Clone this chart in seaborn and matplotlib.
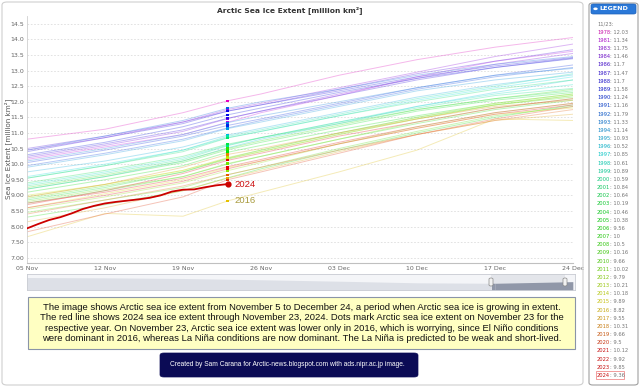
import colorsys
import numpy as np
import pandas as pd
import seaborn as sns
import matplotlib.pyplot as plt
from matplotlib.patches import FancyBboxPatch, Rectangle

# --- data (million km2) ---
years = [1978, 1981, 1983, 1984, 1986, 1987, 1988, 1989, 1990, 1991, 1992, 1993, 1994,
         1995, 1996, 1997, 1998, 1999, 2000, 2001, 2002, 2003, 2004, 2005, 2006, 2007,
         2008, 2009, 2010, 2011, 2012, 2013, 2014, 2015, 2016, 2017, 2018, 2019, 2020,
         2021, 2022, 2023]
days = [0, 7, 14, 18, 21, 28, 35, 42, 49]   # days after 05 Nov

ext_nov05 = [10.80, 10.15, 10.45, 10.20, 10.50, 10.25, 10.40, 10.30, 10.05, 9.95, 10.45, 10.10, 9.90,
             9.75, 9.20, 9.60, 9.35, 9.55, 9.30, 9.55, 9.40, 8.85, 9.20, 9.10, 8.30, 8.75,
             9.25, 8.90, 8.45, 8.80, 8.55, 8.95, 9.00, 8.60, 7.67, 8.15, 8.95, 8.40, 7.83,
             8.70, 8.75, 8.60]
ext_nov12 = [11.12, 10.55, 10.85, 10.60, 10.90, 10.65, 10.85, 10.70, 10.45, 10.35, 10.90, 10.50, 10.30,
             10.10, 9.60, 10.00, 9.75, 9.95, 9.70, 9.95, 9.80, 9.25, 9.60, 9.50, 8.70, 9.15,
             9.65, 9.30, 8.85, 9.20, 8.95, 9.35, 9.35, 9.05, 8.42, 8.60, 9.35, 8.85, 8.40,
             9.15, 9.10, 9.00]
ext_nov19 = [11.65, 10.95, 11.35, 11.05, 11.35, 11.10, 11.30, 11.20, 10.90, 10.80, 11.40, 10.95, 10.75,
             10.55, 10.10, 10.45, 10.20, 10.45, 10.15, 10.40, 10.25, 9.75, 10.05, 9.95, 9.15, 9.60,
             10.10, 9.75, 9.25, 9.60, 9.40, 9.80, 9.80, 9.50, 8.33, 9.15, 9.90, 9.30, 8.95,
             9.70, 9.55, 9.45]
ext_nov23 = [12.03, 11.34, 11.75, 11.46, 11.7, 11.47, 11.7, 11.58, 11.24, 11.16, 11.79, 11.33, 11.14,
             10.93, 10.52, 10.85, 10.61, 10.89, 10.59, 10.84, 10.64, 10.19, 10.46, 10.38, 9.56, 10.0,
             10.5, 10.16, 9.66, 10.02, 9.79, 10.21, 10.18, 9.89, 8.82, 9.55, 10.31, 9.66, 9.5,
             10.12, 9.92, 9.85]
ext_nov26 = [12.25, 11.65, 11.95, 11.70, 11.90, 11.70, 11.90, 11.80, 11.45, 11.40, 12.00, 11.55, 11.35,
             11.15, 10.80, 11.05, 10.85, 11.10, 10.85, 11.05, 10.85, 10.45, 10.70, 10.60, 9.85, 10.25,
             10.75, 10.40, 9.90, 10.25, 10.05, 10.45, 10.40, 10.10, 9.10, 9.80, 10.50, 9.90, 9.75,
             10.35, 10.15, 10.10]
ext_dec03 = [12.85, 12.20, 12.45, 12.25, 12.40, 12.20, 12.35, 12.30, 11.95, 11.90, 12.40, 12.00, 11.85,
             11.65, 11.30, 11.55, 11.35, 11.60, 11.35, 11.55, 11.30, 11.00, 11.20, 11.10, 10.45, 10.80,
             11.25, 10.95, 10.50, 10.80, 10.65, 11.00, 10.95, 10.65, 9.75, 10.40, 11.00, 10.45, 10.35,
             10.90, 10.70, 10.65]
ext_dec10 = [13.35, 12.80, 12.95, 12.75, 12.90, 12.70, 12.80, 12.75, 12.45, 12.40, 12.85, 12.45, 12.35,
             12.15, 11.85, 12.05, 11.85, 12.10, 11.80, 12.00, 11.75, 11.50, 11.70, 11.55, 11.00, 11.30,
             11.75, 11.45, 11.05, 11.35, 11.20, 11.50, 11.45, 11.15, 10.45, 10.95, 11.45, 10.95, 10.95,
             11.35, 11.20, 11.15]
ext_dec17 = [13.75, 13.30, 13.45, 13.20, 13.30, 13.10, 13.15, 13.10, 12.85, 12.80, 13.20, 12.85, 12.70,
             12.55, 12.30, 12.45, 12.25, 12.50, 12.20, 12.40, 12.10, 11.90, 12.05, 11.95, 11.50, 11.75,
             12.10, 11.90, 11.55, 11.80, 11.65, 11.95, 11.90, 11.60, 11.45, 11.40, 11.85, 11.40, 11.45,
             11.80, 11.65, 11.60]
ext_dec24 = [14.06, 13.62, 13.85, 13.55, 13.67, 13.40, 13.42, 13.38, 13.18, 13.10, 13.45, 13.07, 12.95,
             12.86, 12.70, 12.80, 12.55, 12.90, 12.43, 12.70, 12.35, 12.20, 12.30, 12.25, 11.90, 12.05,
             12.40, 12.15, 11.85, 12.10, 11.95, 12.25, 12.20, 11.80, 11.40, 11.60, 12.05, 11.75, 11.85,
             12.10, 11.95, 11.90]

days_2024 = list(range(19))
ext_2024 = [7.94, 8.08, 8.21, 8.30, 8.42, 8.56, 8.66, 8.74, 8.79, 8.83, 8.87, 8.92, 9.00,
            9.12, 9.18, 9.19, 9.26, 9.32, 9.36]

legend_years = years + [2024]
legend_vals = ['12.03', '11.34', '11.75', '11.46', '11.7', '11.47', '11.7', '11.58', '11.24', '11.16',
               '11.79', '11.33', '11.14', '10.93', '10.52', '10.85', '10.61', '10.89', '10.59', '10.84',
               '10.64', '10.19', '10.46', '10.38', '9.56', '10', '10.5', '10.16', '9.66', '10.02',
               '9.79', '10.21', '10.18', '9.89', '8.82', '9.55', '10.31', '9.66', '9.5', '10.12',
               '9.92', '9.85', '9.36']

xtick_days = [0, 7, 14, 21, 28, 35, 42, 49]
xtick_labels = ['05 Nov', '12 Nov', '19 Nov', '26 Nov', '03 Dec', '10 Dec', '17 Dec', '24 Dec']
ytick_vals = [7.0, 7.5, 8.0, 8.5, 9.0, 9.5, 10.0, 10.5, 11.0, 11.5, 12.0, 12.5, 13.0, 13.5, 14.0, 14.5]
ytick_labels = ['7.00', '7.50', '8.00', '8.50', '9.00', '9.50', '10.0', '10.5', '11.0', '11.5',
                '12.0', '12.5', '13.0', '13.5', '14.0', '14.5']

# navigator outline (relative height)
nav_days = [0, 7, 14, 21, 28, 35, 42, 49]
nav_level = [0.78, 0.76, 0.72, 0.64, 0.55, 0.45, 0.42, 0.52]

caption = ("The image shows Arctic sea ice extent from November 5 to December 24, a period when Arctic sea ice is growing in extent.\n"
           "The red line shows 2024 sea ice extent through November 23, 2024. Dots mark Arctic sea ice extent on November 23 for the\n"
           "respective year. On November 23, Arctic sea ice extent was lower only in 2016, which is worrying, since El Niño conditions\n"
           "were dominant in 2016, whereas La Niña conditions are now dominant. The La Niña is predicted to be weak and short-lived.")
credit = "Created by Sam Carana for Arctic-news.blogspot.com with ads.nipr.ac.jp image."

# colours: magenta for the oldest years through to red for the newest
hue_years = [1978, 1990, 1997, 2003, 2010, 2015, 2018, 2021]
hue_deg = [310, 230, 180, 130, 100, 58, 35, 0]


def year_color(y, light, sat=0.85):
    h = np.interp(y, hue_years, hue_deg) / 360.0
    return colorsys.hls_to_rgb(h, light, sat)


sns.set_theme(style='white')
plt.rcParams['font.family'] = ['DejaVu Sans']

W, H = 640, 387
fig = plt.figure(figsize=(6.4, 3.87), dpi=100)


def fx(px):
    return px / W


def fy(py):
    return 1 - py / H


# outer border of chart
fig.patches.append(FancyBboxPatch((fx(2), fy(385)), fx(581), (383) / H,
                                  boxstyle='round,pad=0,rounding_size=0.008',
                                  transform=fig.transFigure, fc='none', ec='#cfcfcf', lw=0.8))

ax = fig.add_axes([fx(27), fy(263), fx(573 - 27), (263 - 16) / H])

rows = []
cols = [ext_nov05, ext_nov12, ext_nov19, ext_nov23, ext_nov26, ext_dec03, ext_dec10, ext_dec17, ext_dec24]
for i, yr in enumerate(years):
    for d, col in zip(days, cols):
        rows.append((yr, d, col[i]))
df = pd.DataFrame(rows, columns=['year', 'day', 'extent'])

line_pal = {y: year_color(y, 0.6, 0.75) for y in years}
sns.lineplot(data=df, x='day', y='extent', hue='year', palette=line_pal, legend=False,
             lw=0.7, alpha=0.4, ax=ax, estimator=None, sort=True)

# dots on Nov 23
dot_pal = {y: year_color(y, 0.45, 1.0) for y in years}
sns.scatterplot(x=[18] * len(years), y=ext_nov23, hue=years, palette=dot_pal, marker='s',
                s=2.5, linewidth=0, legend=False, ax=ax, zorder=4)

# 2024
sns.lineplot(x=days_2024, y=ext_2024, color='#cc0000', lw=1.3, ax=ax, zorder=5)
ax.scatter([days_2024[-1]], [ext_2024[-1]], s=12, color='#cc0000', zorder=6)
ax.text(days_2024[-1] + 0.6, ext_2024[-1], '2024', color='#cc1111', fontsize=6.8,
        va='center', ha='left', family=['Liberation Sans'])
i16 = years.index(2016)
ax.text(18.6, ext_nov23[i16], '2016', color='#a89a3c', fontsize=6.8,
        va='center', ha='left', family=['Liberation Sans'])

ax.set_xlim(0, 49)
ax.set_ylim(6.83, 14.75)
ax.set_xticks(xtick_days)
ax.set_xticklabels(xtick_labels)
ax.set_yticks(ytick_vals)
ax.set_yticklabels(ytick_labels)
ax.tick_params(axis='both', labelsize=4.5, labelcolor='#666666', length=0, pad=2)
ax.set_xlabel('')
ax.set_ylabel('')
ax.grid(axis='y', color='#dddddd', lw=0.6, ls=(0, (2, 2)))
ax.grid(axis='x', visible=False)
for s in ['top', 'right']:
    ax.spines[s].set_visible(False)
ax.spines['left'].set_color('#d0d0d0')
ax.spines['left'].set_linewidth(0.6)
ax.spines['bottom'].set_color('#c0c0c0')
ax.spines['bottom'].set_linewidth(0.8)

fig.text(fx(290), fy(10), 'Arctic Sea Ice Extent [million km²]', ha='center', va='center',
         fontsize=5.4, weight='bold', color='#333333')
fig.text(fx(8), fy(149), 'Sea Ice Extent [million km²]', ha='center', va='center',
         rotation=90, fontsize=5.2, color='#555555')

# navigator
nav = fig.add_axes([fx(27), fy(290), fx(575 - 27), 16 / H])
nav.set_facecolor('#f4f5f8')
nav.fill_between(nav_days, nav_level, 0, color='#dde0e7', lw=0)
nav.axvspan(41.7, 48.3, color='#e3e5ea', lw=0)
nav.fill_between(nav_days, nav_level, 0, where=[d >= 42 for d in nav_days],
                 color='#9097a8', lw=0)
nav.fill_between([41.7, 42], [0.43, 0.42], 0, color='#9097a8', lw=0)
nav.set_xlim(0, 49.2)
nav.set_ylim(0, 1)
nav.set_xticks([])
nav.set_yticks([])
for s in nav.spines.values():
    s.set_color('#c8cbd2')
    s.set_linewidth(0.6)
for hx in [491, 565]:
    fig.patches.append(FancyBboxPatch((fx(hx - 2), fy(286)), fx(4), 8 / H,
                                      boxstyle='round,pad=0,rounding_size=0.003',
                                      transform=fig.transFigure, fc='#f2f2f2', ec='#888888', lw=0.5,
                                      zorder=5))

# caption box
fig.patches.append(FancyBboxPatch((fx(28), fy(349)), fx(547), 52 / H,
                                  boxstyle='square,pad=0', transform=fig.transFigure,
                                  fc='#ffffc2', ec='#8a94a8', lw=0.8))
fig.text(fx(301.5), fy(323), caption, ha='center', va='center', fontsize=6.8,
         linespacing=1.2, color='#111111', family=['Liberation Sans', 'DejaVu Sans'])

# credit box
fig.patches.append(FancyBboxPatch((fx(160), fy(377)), fx(258), 24 / H,
                                  boxstyle='round,pad=0,rounding_size=0.006',
                                  transform=fig.transFigure, fc='#0b0b55', ec='#0b0b55', lw=0.5))
fig.text(fx(287), fy(365), credit, ha='center', va='center', fontsize=4.8, color='white',
         family=['Liberation Sans Narrow', 'Liberation Sans'])

# legend panel
fig.patches.append(FancyBboxPatch((fx(589), fy(385)), fx(49), 382 / H,
                                  boxstyle='round,pad=0,rounding_size=0.006',
                                  transform=fig.transFigure, fc='white', ec='#a0a0a0', lw=0.8))
fig.patches.append(FancyBboxPatch((fx(591), fy(14)), fx(45), 10 / H,
                                  boxstyle='round,pad=0,rounding_size=0.004',
                                  transform=fig.transFigure, fc='#2a78d8', ec='#1c5fb8', lw=0.5))
fig.patches.append(plt.Circle((fx(595.5), fy(8.8)), 2.2 / W, transform=fig.transFigure,
                              fc='white', ec='none'))
fig.text(fx(599), fy(9), 'LEGEND', color='white', fontsize=4.6, weight='bold',
         ha='left', va='center')
fig.text(fx(597), fy(24), '11/23:', color='#777777', fontsize=3.7, ha='left', va='center')

year_texts = []
for i, yr in enumerate(legend_years):
    yy = 32.3 + i * 8.17
    t = fig.text(fx(597), fy(yy), str(yr), color=year_color(yr, 0.42, 0.85), fontsize=3.7,
                 ha='left', va='center')
    year_texts.append((t, yy))
fig.canvas.draw()
renderer = fig.canvas.get_renderer()
for (t, yy), v in zip(year_texts, legend_vals):
    x1 = t.get_window_extent(renderer).x1 / fig.bbox.width
    fig.text(x1, fy(yy), ': ' + v, color='#777777', fontsize=3.7, ha='left', va='center')
fig.patches.append(Rectangle((fx(595.5), fy(379)), fx(28), 8 / H, transform=fig.transFigure,
                             fc='none', ec='#f08c8c', lw=0.6))

plt.savefig('out.png', dpi=100)
